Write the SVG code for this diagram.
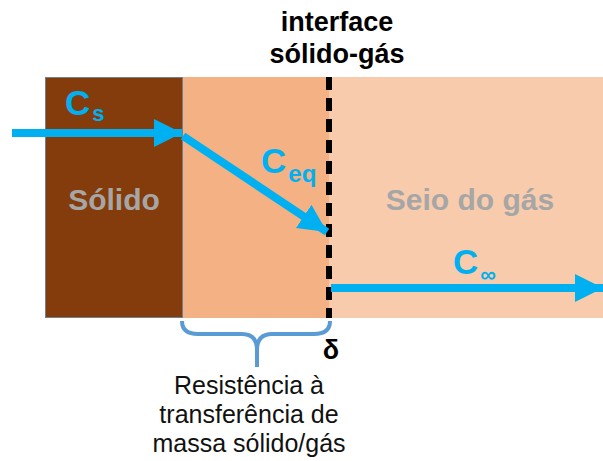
<svg xmlns="http://www.w3.org/2000/svg" width="603" height="461" viewBox="0 0 603 461">
<style>
.b{font-family:"Liberation Sans",Arial,sans-serif;font-weight:bold}
.c{fill:#00B0F0;font-size:35px}
.g{fill:#A6A6A6;font-size:30px}
.r{font-family:"Liberation Sans",Arial,sans-serif;font-size:25px;fill:#111}
.arr{stroke:#00B0F0;stroke-width:8;fill:none}
</style>
<defs>
<marker id="ah" markerUnits="userSpaceOnUse" markerWidth="30" markerHeight="30" refX="28" refY="14" orient="auto">
<path d="M0,0 L28,14 L0,28 Z" fill="#00B0F0"/>
</marker>
</defs>
<rect width="603" height="461" fill="#fff"/>
<g id="gas"><rect x="328" y="77" width="275" height="241" fill="#F8CBAD"/>
<text class="b g" x="470" y="210" text-anchor="middle">Seio do gás</text></g>
<g id="film"><rect x="182" y="77" width="147" height="241" fill="#F4B183"/></g>
<g id="solid"><rect x="45.5" y="77.5" width="137" height="240" fill="#843C0C" stroke="#6F7F95" stroke-width="1"/>
<text class="b g" x="114" y="210" text-anchor="middle">Sólido</text></g>
<g id="interface"><line x1="329" y1="77" x2="329" y2="318" stroke="#000" stroke-width="6" stroke-dasharray="13,8"/>
<text class="b" x="337" y="31" font-size="27" text-anchor="middle">interface</text>
<text class="b" x="337" y="63" font-size="27" text-anchor="middle">sólido-gás</text>
<text class="b" x="331" y="359" font-size="27" text-anchor="middle">δ</text></g>
<g id="connectors">
<line class="arr" x1="12" y1="133" x2="182" y2="133" marker-end="url(#ah)"/>
<line class="arr" x1="183" y1="136" x2="327" y2="232" marker-end="url(#ah)"/>
<line class="arr" x1="331" y1="288" x2="603" y2="288" marker-end="url(#ah)"/>
</g>
<g id="labels">
<text class="b c" x="65" y="115">C<tspan font-size="22" dx="2" dy="6">s</tspan></text>
<text class="b c" x="261" y="173">C<tspan font-size="24" dx="2" dy="9">eq</tspan></text>
<text class="b c" x="453" y="274">C<tspan font-size="22" dx="2" dy="8">∞</tspan></text>
</g>
<g id="brace"><path d="M182,321 Q182,334 198,334 L242,334 Q257,334 257,350 L257,367 M257,350 Q257,334 272,334 L314,334 Q330,334 330,321" fill="none" stroke="#5B9BD5" stroke-width="4"/>
<text class="r" x="249" y="394" text-anchor="middle">Resistência à</text>
<text class="r" x="249" y="423" text-anchor="middle">transferência de</text>
<text class="r" x="249" y="452" text-anchor="middle">massa sólido/gás</text></g>
</svg>
